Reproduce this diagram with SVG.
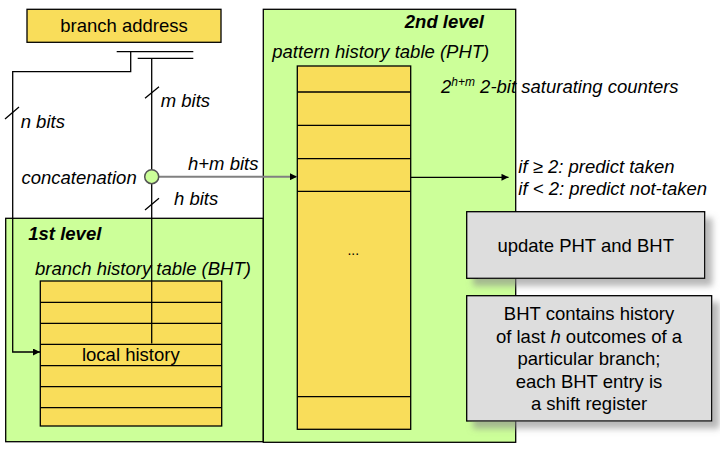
<svg xmlns="http://www.w3.org/2000/svg" width="720" height="449" viewBox="0 0 720 449">
<style>
text{font-family:"Liberation Sans",Arial,sans-serif;font-size:18.5px;fill:#000}
.it{font-style:italic}
.bi{font-style:italic;font-weight:bold}
.lvl{fill:#ccff99;stroke:#000;stroke-width:1.3}
.yel{fill:#f9dd5a;stroke:#000;stroke-width:1.3}
.gray{fill:#dddddd;stroke:#000;stroke-width:1.3}
.ln{stroke:#000;stroke-width:1.3;fill:none}
</style>
<defs>
<marker id="ah" viewBox="0 0 10 10" refX="10" refY="5" markerWidth="8" markerHeight="7" markerUnits="userSpaceOnUse" orient="auto"><path d="M0,0L10,5L0,10z" fill="#000"/></marker>
<filter id="sh" x="-10%" y="-10%" width="130%" height="140%"><feDropShadow dx="7" dy="7" stdDeviation="3" flood-color="#888" flood-opacity="0.6"/></filter>
</defs>
<g id="level1">
<rect class="lvl" x="5.7" y="218.3" width="257.6" height="223.4"/>
<text class="bi" x="28.3" y="240">1st level</text>
<text class="it" x="35" y="275">branch history table (BHT)</text>
</g>
<g id="level2">
<rect class="lvl" x="263.3" y="9.3" width="252.4" height="433"/>
<text class="bi" x="484" y="28.3" text-anchor="end">2nd level</text>
<text class="it" x="272.3" y="58.3">pattern history table (PHT)</text>
</g>
<g id="branch-address">
<rect class="yel" x="27" y="9.3" width="194" height="33"/>
<text x="124" y="32" text-anchor="middle">branch address</text>
</g>
<g id="bht">
<rect class="yel" x="40.3" y="281" width="181.4" height="145"/>
<path class="ln" d="M40.3,302.3H221.7M40.3,323.3H221.7M40.3,344.3H221.7M40.3,365.7H221.7M40.3,386.7H221.7M40.3,407.7H221.7"/>
<text x="130.8" y="360.7" text-anchor="middle">local history</text>
</g>
<g id="pht">
<rect class="yel" x="297.3" y="66" width="113.4" height="363.3"/>
<path class="ln" d="M297.3,92H410.7M297.3,125.3H410.7M297.3,158.7H410.7M297.3,191.3H410.7M297.3,396.7H410.7"/>
<text x="353.3" y="254.5" text-anchor="middle" style="font-size:14px">...</text>
</g>
<g id="connectors">
<path class="ln" d="M116.7,51.7H193.3M137.7,58.3H193.3"/>
<path class="ln" d="M130.7,51.7V71.7H12.7V352H40" marker-end="url(#ah)"/>
<path class="ln" d="M151.7,58.3V343.5"/>
<path class="ln" d="M145,98.3L159,86.7M5,119L19,107M145,210L159,198.3"/>
<path d="M159,176.7H297" stroke="#808080" stroke-width="2" fill="none" marker-end="url(#ah)"/>
<path class="ln" d="M410.7,177.3H508.5" marker-end="url(#ah)"/>
</g>
<g id="concat">
<circle cx="151.7" cy="176.7" r="7" fill="#ccff99" stroke="#555" stroke-width="1.5"/>
</g>
<g id="labels">
<text class="it" x="160.7" y="106.7">m bits</text>
<text class="it" x="20.7" y="128">n bits</text>
<text class="it" x="136.7" y="184" text-anchor="end">concatenation</text>
<text class="it" x="188" y="170">h+m bits</text>
<text class="it" x="174" y="205">h bits</text>
<text class="it" x="441" y="93.3">2<tspan dy="-7" style="font-size:12px">h+m</tspan><tspan dy="7"> 2-bit saturating counters</tspan></text>
<text class="it" x="518.3" y="173.3">if ≥ 2: predict taken</text>
<text class="it" x="518.3" y="195">if &lt; 2: predict not-taken</text>
</g>
<g id="update">
<rect class="gray" x="466.7" y="211.7" width="238" height="66.6" filter="url(#sh)"/>
<text x="585.7" y="251.7" text-anchor="middle">update PHT and BHT</text>
</g>
<g id="note">
<rect class="gray" x="466.7" y="295.7" width="245" height="125.3" filter="url(#sh)"/>
<text x="589" y="320" text-anchor="middle">BHT contains history</text>
<text x="589" y="342.5" text-anchor="middle">of last <tspan class="it">h</tspan> outcomes of a</text>
<text x="589" y="365" text-anchor="middle">particular branch;</text>
<text x="589" y="387.5" text-anchor="middle">each BHT entry is</text>
<text x="589" y="409.5" text-anchor="middle">a shift register</text>
</g>
</svg>
